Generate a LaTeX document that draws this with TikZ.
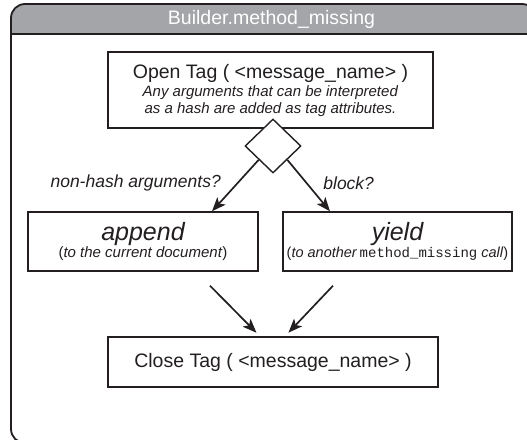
\documentclass[tikz,border=0pt]{standalone}
\usepackage{fontspec}
\setmainfont{Liberation Sans}
\setmonofont{Liberation Mono}
\usetikzlibrary{arrows.meta, shapes.geometric}

\definecolor{inkgray}{HTML}{231F20}
\definecolor{headgray}{HTML}{A4A5A8}

\begin{document}
\begin{tikzpicture}[
            x = 1pt, y = -1pt, % pixel-like units, y grows downwards
            > = {Stealth[length=14pt, width=11pt, inset=3.5pt]}, % arrow head style
            color = inkgray
        ]

        \tikzstyle{block}=[
            draw = inkgray,
            line width = 1.4pt,
            fill = white,
            align = center,
            inner sep = 2pt,
            font = \fontsize{15}{17}\selectfont
        ]
        \tikzstyle{big}=[font = \fontsize{19.5}{23}\selectfont]
        \tikzstyle{cond}=[font = \fontsize{17.5}{20}\selectfont\itshape, inner sep = 0pt]
        \tikzstyle{flow}=[->, line width = 1.7pt]

        \useasboundingbox (0,0) rectangle (527,439);

        % frame with the grey title bar
        \begin{scope}
            \clip[rounded corners = 14pt] (11,4) rectangle (536,443);
            \fill[headgray] (11,4) rectangle (536,34);
        \end{scope}
        \draw[line width = 1.6pt] (11,34) -- (536,34);
        \draw[line width = 1.8pt, rounded corners = 14pt] (11,4) rectangle (536,443);
        \node[big, text = white] (title) at (271.5,19) {Builder.method\_missing};

        \node[block, minimum width = 325pt, minimum height = 76pt] (open) at (270.5,90)
            {{\fontsize{19.5}{23}\selectfont Open Tag ( <message\_name> )}\\[1pt]
             \textit{Any arguments that can be interpreted}\\
             \textit{as a hash are added as tag attributes.}};
        \node[diamond, draw = inkgray, line width = 1.4pt, fill = white,
              minimum width = 56pt, minimum height = 54pt, inner sep = 0pt] (test) at (273,146) {};

        \node[block, minimum width = 230pt, minimum height = 59pt] (append) at (143,241.5)
            {{\fontsize{25}{28}\selectfont\itshape append}\\
             (\textit{to the current document})};
        \node[block, minimum width = 229pt, minimum height = 59pt, inner sep = 0pt] (yield) at (397.5,241.5)
            {{\fontsize{25}{28}\selectfont\itshape yield}\\
             {\fontsize{14.5}{17}\selectfont(\textit{to another}\,{\fontsize{14}{17}\selectfont\ttfamily method\_missing} \textit{call})}};

        \node[block, big, minimum width = 330pt, minimum height = 50pt] (close) at (273,362)
            {Close Tag ( <message\_name> )};

        \draw[flow] (test.south west) -- ([xshift = 69pt]append.north)
            node[cond, pos = 0.45, left = 16pt] (nohash) {non-hash arguments?};
        \draw[flow] (test.south east) -- ([xshift = -67.5pt]yield.north)
            node[cond, pos = 0.45, right = 16pt] (hasblock) {block?};

        \draw[flow, shorten > = 5pt] ([xshift = 67pt, yshift = -14pt]append.south) -- ([xshift = -13pt]close.north);
        \draw[flow, shorten > = 5pt] ([xshift = -64.5pt, yshift = -14pt]yield.south) -- ([xshift = 12pt]close.north);

  \end{tikzpicture}
\end{document}
